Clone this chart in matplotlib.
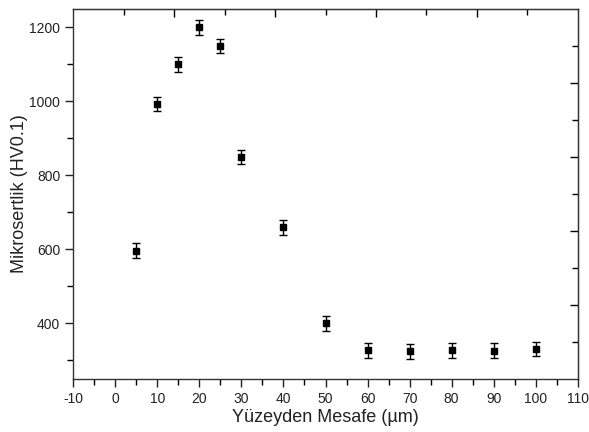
import numpy as np
import matplotlib.pyplot as plt
from matplotlib.ticker import MultipleLocator, NullFormatter

# mikrosertlik olcumleri
mesafe = [5, 10, 15, 20, 25, 30, 40, 50, 60, 70, 80, 90, 100]
sertlik = [597, 993, 1100, 1200, 1150, 850, 660, 400, 328, 325, 328, 327, 331]
hata = [20, 20, 20, 20, 20, 20, 20, 20, 20, 20, 20, 20, 20]

# ust ve sag eksendeki etiketsiz tikler
ust_major = [14, 38, 62, 86]
ust_minor = [2, 26, 50, 74, 98]
sag_major = [450, 650, 850, 1050]
sag_minor = [350, 550, 750, 950, 1150]

plt.rcParams['font.family'] = ['Liberation Sans', 'DejaVu Sans']
plt.rcParams['axes.unicode_minus'] = False

fig = plt.figure(figsize=(5.89, 4.32), dpi=100)
ax = fig.add_axes([0.1245, 0.1227, 0.8563, 0.8565])

ax.errorbar(mesafe, sertlik, yerr=hata, fmt='s', color='black', ms=5.0,
            ecolor='black', elinewidth=1.0, capsize=3.2, capthick=1.0)

ax.set_xlim(-10, 110)
ax.set_ylim(250, 1250)
ax.xaxis.set_major_locator(MultipleLocator(10))
ax.xaxis.set_minor_locator(MultipleLocator(5))
ax.yaxis.set_major_locator(MultipleLocator(200))
ax.yaxis.set_minor_locator(MultipleLocator(100))
ax.set_yticks([400, 600, 800, 1000, 1200])

ax.tick_params(which='major', direction='out', length=6, width=1, labelsize=10,
               colors='#222222', top=False, right=False)
ax.tick_params(which='minor', direction='out', length=4, width=1, top=False, right=False)

for s in ax.spines.values():
    s.set_linewidth(1.0)
    s.set_color('#333333')

ax.set_xlabel('Yüzeyden Mesafe (µm)', fontsize=13, color='#222222', labelpad=2)
ax.set_ylabel('Mikrosertlik (HV0.1)', fontsize=13, color='#222222', labelpad=1)

top = ax.secondary_xaxis('top')
top.set_xticks(ust_major)
top.set_xticks(ust_minor, minor=True)
top.xaxis.set_major_formatter(NullFormatter())
top.xaxis.set_minor_formatter(NullFormatter())
top.tick_params(which='major', direction='in', length=6, width=1)
top.tick_params(which='minor', direction='in', length=4, width=1)

right = ax.secondary_yaxis('right')
right.set_yticks(sag_major)
right.set_yticks(sag_minor, minor=True)
right.yaxis.set_major_formatter(NullFormatter())
right.yaxis.set_minor_formatter(NullFormatter())
right.tick_params(which='major', direction='in', length=6, width=1)
right.tick_params(which='minor', direction='in', length=4, width=1)

fig.savefig('out.png', dpi=100)
